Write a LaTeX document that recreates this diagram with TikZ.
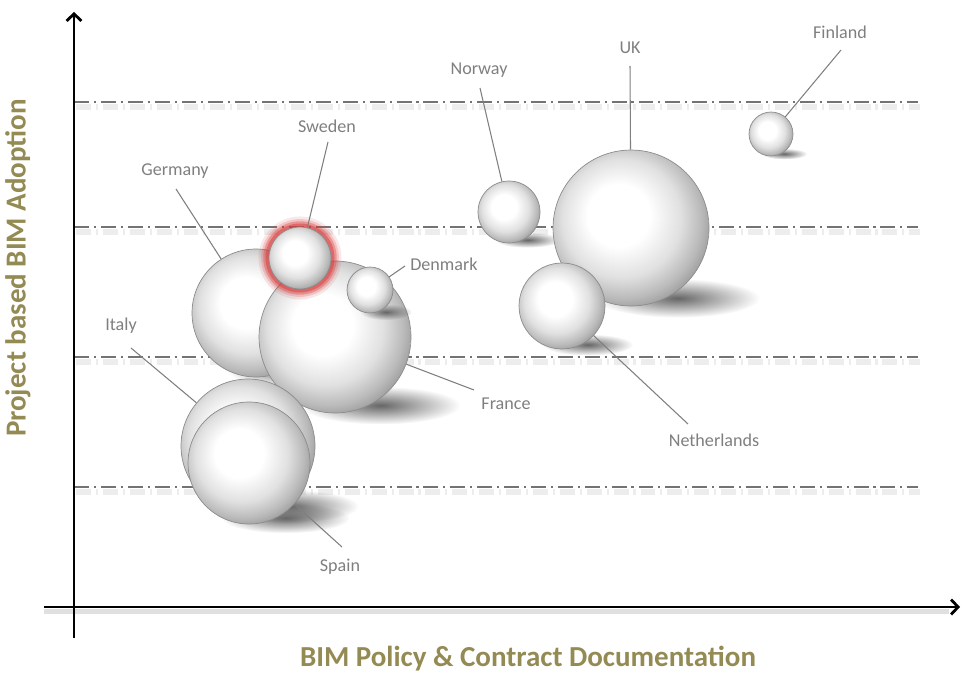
\documentclass[tikz,border=0pt]{standalone}
\usepackage{fontspec}
\setmainfont{Carlito}
\usetikzlibrary{arrows.meta,fadings}
\definecolor{labelgray}{RGB}{127,127,127}
\definecolor{gridgray}{RGB}{115,115,115}
\definecolor{titleolive}{RGB}{148,138,84}
\definecolor{glowred}{RGB}{215,60,60}
\pgfdeclareradialshading{sphere}{\pgfpoint{-5bp}{5bp}}{color(0bp)=(white); color(10bp)=(white); color(19bp)=(black!12); color(25bp)=(black!27); color(29bp)=(black!40); color(32bp)=(black!48); color(50bp)=(black!48)}
\tikzfading[name=soft blot, inner color=transparent!0, outer color=transparent!100]
\tikzstyle{bubble} = [circle, shading=sphere, draw=black!45, line width=0.4pt,
    inner sep=0pt, minimum size=#1*0.04cm]
\tikzstyle{glow} = [preaction={draw=glowred, draw opacity=0.12, line width=12pt},
    preaction={draw=glowred, draw opacity=0.2, line width=9pt},
    preaction={draw=glowred, draw opacity=0.35, line width=6.5pt},
    preaction={draw=glowred, draw opacity=0.5, line width=4pt}]
\tikzstyle{bubble shadow} = [black!60, path fading=soft blot]
\tikzstyle{lbl} = [text=labelgray, font=\fontsize{10.3}{12}\selectfont, inner sep=1pt]
\tikzstyle{leader} = [draw=labelgray, line width=0.6pt]
\tikzstyle{gridline} = [draw=gridgray, line width=1.1pt,
    dash pattern=on 8.5pt off 2.8pt on 1.2pt off 2.8pt]
\tikzstyle{axis} = [draw=black, line width=1.6pt, -{Straight Barb[length=4pt, width=8.5pt]}]
\tikzstyle{axis title} = [text=titleolive, font=\fontsize{16.5}{20}\selectfont\bfseries]

\begin{document}
\begin{tikzpicture}[x=0.02cm, y=0.02cm]
  \useasboundingbox (0,0) rectangle (962,674);
  % dash-dot levels with their soft shadow
  \foreach \gy in {572,447,317,187} {
    \draw[gridline, draw=black!7, line width=3pt] (76,\gy-5) -- (920,\gy-5);
    \draw[gridline] (74,\gy) -- (918,\gy);
  }
  % axes
  \coordinate (yfoot) at (74,36);
  \coordinate (ytop) at (74,662);
  \coordinate (xfoot) at (44,67);
  \coordinate (xtop) at (960,67);
  \draw[draw=black!12, line width=3pt] ([yshift=-2.5pt]xfoot) -- ([yshift=-2.5pt,xshift=-6pt]xtop);
  \draw[axis] (yfoot) -- (ytop);
  \draw[axis] (xfoot) -- (xtop);
  \node[axis title, rotate=90] (ytitle) at (18,406) {Project based BIM Adoption};
  \node[axis title] (xtitle) at (528,15) {BIM Policy \& Contract Documentation};
  % shadows under the spheres
  \foreach \cx/\cy/\r in {256/361/64, 335/337/76, 300/416/31, 248/228/67, 249/211/61,
      631/446/78, 562/368/43, 509/462/31, 771/540/22}
    \fill[bubble shadow] (\cx+0.6*\r,\cy-0.9*\r) ellipse [x radius=1.05*\r, y radius=0.25*\r];
  % spheres
  \node[bubble=64] (germany) at (256,361) {};
  \node[bubble=76] (france) at (335,337) {};
  \fill[bubble shadow] (386,362) ellipse [x radius=26, y radius=8];
  \node[bubble=31, glow] (sweden) at (300,416) {};
  \node[bubble=23] (denmark) at (370,384) {};
  \node[bubble=67] (italy) at (248,228) {};
  \node[bubble=61] (spain) at (249,211) {};
  \node[bubble=78] (uk) at (631,446) {};
  \node[bubble=43] (netherlands) at (562,368) {};
  \node[bubble=31] (norway) at (509,462) {};
  \node[bubble=22] (finland) at (771,540) {};
  % labels
  \node[lbl] (finlandlbl) at (840,642) {Finland};
  \node[lbl] (norwaylbl) at (479,604) {Norway};
  \node[lbl] (uklbl) at (630,626) {UK};
  \node[lbl] (swedenlbl) at (327,548) {Sweden};
  \node[lbl] (germanylbl) at (175,503) {Germany};
  \node[lbl] (denmarklbl) at (444,410) {Denmark};
  \node[lbl] (italylbl) at (121,348) {Italy};
  \node[lbl] (francelbl) at (506,270) {France};
  \node[lbl] (netherlandslbl) at (714,234) {Netherlands};
  \node[lbl] (spainlbl) at (340,107) {Spain};
  % leader lines
  \coordinate (finlandpt) at (841,624);
  \coordinate (norwaypt) at (480,586);
  \coordinate (ukpt) at (630,608);
  \coordinate (swedenpt) at (328,532);
  \coordinate (germanypt) at (176,485);
  \coordinate (denmarkpt) at (405,408);
  \coordinate (italypt) at (131,326);
  \coordinate (francept) at (474,284);
  \coordinate (netherlandspt) at (688,250);
  \coordinate (spainpt) at (342,127);
  \path[leader] (finlandpt) -- (finland);
  \path[leader] (norwaypt) -- (norway);
  \path[leader] (ukpt) -- (uk);
  \path[leader] (swedenpt) -- (sweden);
  \path[leader] (germanypt) -- (germany);
  \path[leader] (denmarkpt) -- (denmark);
  \path[leader] (italypt) -- (italy);
  \path[leader] (francept) -- (france);
  \path[leader] (netherlandspt) -- (netherlands);
  \path[leader] (spainpt) -- (spain);
\end{tikzpicture}
\end{document}
